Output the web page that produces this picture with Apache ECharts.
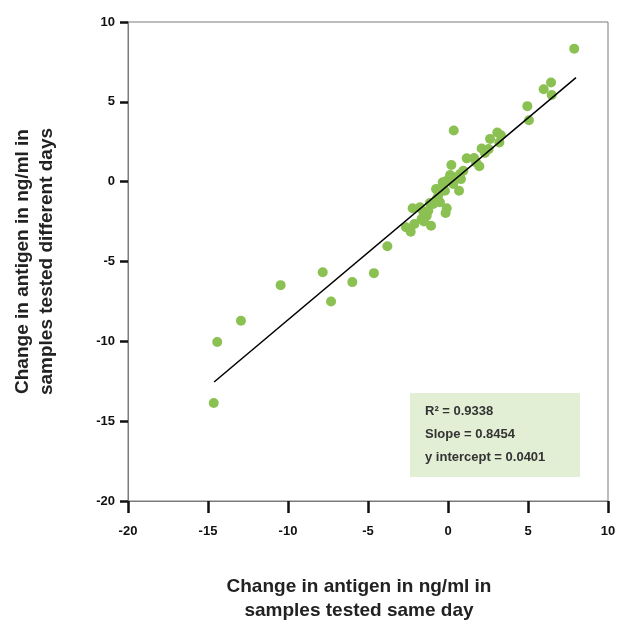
<!DOCTYPE html>
<html>

<head>
    <meta charset="UTF-8">
    <title>Antigen change</title>
    <script src="https://cdn.jsdelivr.net/npm/echarts@6/dist/echarts.min.js"></script>
    <style>
        html, body { margin: 0; padding: 0; background: #fff; }
    </style>
</head>

<body>
    <div id="chart" style="width: 620px; height: 623px;"></div>

    <script>

        // change in antigen, same day (x) vs different days (y)
        var sameDay = [7.89, 6.44, 5.98, 6.48, 4.96, 5.06, 0.36, 3.08, 3.31, 2.63, 3.21, 2.54, 2.10, 2.31,
            1.17, 1.63, 1.75, 1.96, 0.21, 0.96, 0.75, 0.13, 0.44, 0.81, -0.33, -0.08, 0.33, 0.69,
            -0.75, -0.39, -0.19, -0.60, -0.71, -0.50, -0.92, -1.13, -0.08, -0.15, -2.21, -1.75,
            -1.54, -1.23, -1.33, -1.65, -1.50, -2.10, -1.06, -2.63, -2.33, -3.79, -7.83, -4.63,
            -5.98, -10.46, -7.31, -12.94, -14.42, -14.64];
        var differentDays = [8.33, 6.21, 5.79, 5.43, 4.73, 3.85, 3.21, 3.08, 2.91, 2.68, 2.46, 2.04, 2.08, 1.79,
            1.46, 1.48, 1.21, 0.96, 1.04, 0.68, 0.48, 0.41, 0.27, 0.16, -0.04, 0.06, -0.15, -0.57,
            -0.46, -0.36, -0.57, -0.83, -1.09, -1.29, -1.40, -1.34, -1.67, -1.96, -1.67, -1.61,
            -1.92, -1.82, -2.13, -2.34, -2.50, -2.65, -2.76, -2.86, -3.13, -4.04, -5.67, -5.73,
            -6.29, -6.48, -7.50, -8.71, -10.04, -13.86];

        // fitted line end points
        var fitX = [-14.62, 8.0];
        var fitY = [-12.55, 6.52];

        var statLines = ['R² = 0.9338', 'Slope = 0.8454', 'y intercept = 0.0401'];

        var xTicks = [-20, -15, -10, -5, 0, 5, 10];
        var yTicks = [-20, -15, -10, -5, 0, 5, 10];

        var points = sameDay.map(function (v, i) { return [v, differentDays[i]]; });
        var fit = fitX.map(function (v, i) { return [v, fitY[i]]; });

        var myChart = echarts.init(document.getElementById('chart'));

        var axisFont = { fontFamily: 'Liberation Sans, Arial, sans-serif', fontWeight: 'bold' };

        option = {
            animation: false,
            backgroundColor: '#fff',
            grid: {
                left: 128, right: 12, top: 22, bottom: 122,
                outerBoundsMode: 'none',
                containLabel: false,
                show: true, borderColor: '#7a7a7a', borderWidth: 1
            },
            xAxis: {
                type: 'value',
                min: xTicks[0], max: xTicks[xTicks.length - 1], interval: 5,
                splitLine: { show: false },
                axisLine: { show: true, onZero: false, lineStyle: { color: '#7a7a7a', width: 1 } },
                axisTick: { show: true, length: 12, lineStyle: { color: '#111', width: 2.5 } },
                axisLabel: Object.assign({ color: '#111', fontSize: 13, margin: 24 }, axisFont),
                name: 'Change in antigen in ng/ml in\nsamples tested same day',
                nameLocation: 'middle',
                nameGap: 74,
                nameTextStyle: Object.assign({ color: '#222', fontSize: 19, lineHeight: 24, padding: [0, 18, 0, 0] }, axisFont)
            },
            yAxis: {
                type: 'value',
                min: yTicks[0], max: yTicks[yTicks.length - 1], interval: 5,
                splitLine: { show: false },
                axisLine: { show: true, onZero: false, lineStyle: { color: '#7a7a7a', width: 1 } },
                axisTick: { show: true, length: 8, lineStyle: { color: '#111', width: 2.5 } },
                axisLabel: Object.assign({ color: '#111', fontSize: 13, margin: 13 }, axisFont),
                name: 'Change in antigen in ng/ml in\nsamples tested different days',
                nameLocation: 'middle',
                nameGap: 69,
                nameTextStyle: Object.assign({ color: '#222', fontSize: 19, lineHeight: 24 }, axisFont)
            },
            graphic: [
                {
                    type: 'rect',
                    left: 410, top: 393,
                    shape: { width: 170, height: 84 },
                    style: { fill: '#e2efd5' }
                },
                {
                    type: 'text',
                    left: 425, top: 400,
                    style: {
                        text: statLines.join('\n'),
                        fontSize: 13,
                        lineHeight: 23,
                        fontWeight: 'bold',
                        fontFamily: 'Liberation Sans, Arial, sans-serif',
                        fill: '#333'
                    }
                }
            ],
            series: [
                {
                    type: 'line',
                    data: fit,
                    symbol: 'none',
                    lineStyle: { color: '#000', width: 1.5 },
                    z: 3
                },
                {
                    type: 'scatter',
                    data: points,
                    symbolSize: 10,
                    itemStyle: { color: '#8bc152', opacity: 1 },
                    z: 2
                }
            ]
        };

        myChart.setOption(option);

    </script>
</body>

</html>
